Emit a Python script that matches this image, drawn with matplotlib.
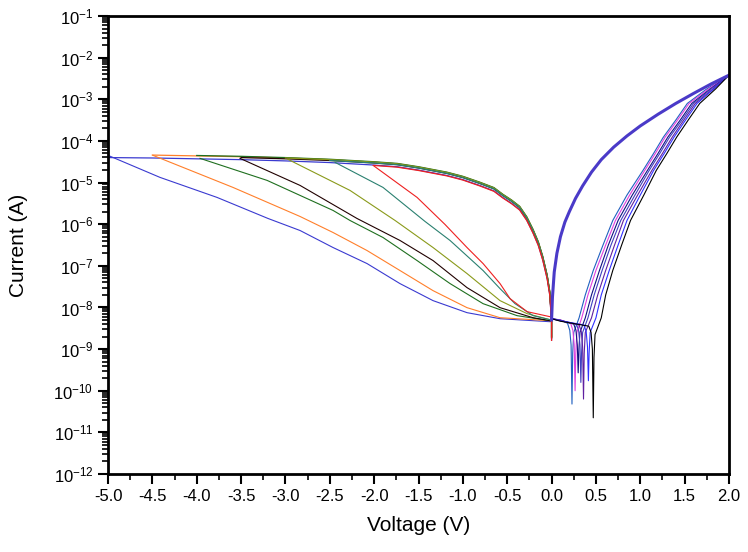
import numpy as np
import matplotlib
matplotlib.use("Agg")
import matplotlib.pyplot as plt
from matplotlib.ticker import MultipleLocator, LogLocator, NullFormatter

plt.rcParams['font.family'] = ['Liberation Sans', 'DejaVu Sans']
plt.rcParams['mathtext.default'] = 'regular'

# reset branch, shared envelope (0 -> -Vmax), log10(I); last point = dip at 0 V
env_v = [-5.0, -4.5, -4.0, -3.5, -3.0, -2.5, -2.0, -1.74, -1.5, -1.18, -1.0, -0.81,
         -0.65, -0.55, -0.45, -0.36, -0.28, -0.21, -0.15, -0.10, -0.05, -0.02, 0.0, 0.0]
env_logi = [-4.35, -4.36, -4.38, -4.40, -4.43, -4.47, -4.53, -4.57, -4.65, -4.78, -4.88, -5.02,
            -5.15, -5.31, -5.45, -5.60, -5.85, -6.15, -6.45, -6.80, -7.25, -7.65, -8.30, -8.73]

# stop voltage of each cycle and small spread of the envelope
vstop = [-5.0, -4.5, -4.0, -3.5, -3.0, -2.5, -2.0]
env_spread = [-0.05, 0.02, 0.03, 0.0, 0.02, 0.0, -0.06]
cycle_colors = ['#3a3ad0', '#ff7f2a', '#1f6f1f', '#200000', '#8a9a1a', '#2a8070', '#ee2020']

# return branches (-Vmax -> 0)
ret_v = [
    [-5.0, -4.414, -3.771, -3.196, -2.835, -2.463, -2.080, -1.708, -1.336, -0.953, -0.581, -0.017, 0.0],
    [-4.493, -3.591, -2.835, -2.463, -2.080, -1.708, -1.336, -0.953, -0.581, -0.017, 0.0],
    [-3.963, -3.207, -2.463, -2.272, -1.900, -1.516, -1.144, -0.772, -0.389, -0.017, 0.0],
    [-3.512, -2.835, -2.193, -1.708, -1.336, -0.953, -0.581, -0.209, -0.017, 0.0],
    [-2.971, -2.272, -1.764, -1.336, -0.953, -0.581, -0.276, -0.017, 0.0],
    [-2.441, -1.900, -1.426, -1.144, -0.772, -0.581, -0.412, -0.209, -0.017, 0.0],
    [-2.012, -1.516, -1.201, -0.953, -0.772, -0.581, -0.468, -0.276, -0.017, 0.0],
]
ret_logi = [
    [-4.347, -4.876, -5.357, -5.863, -6.152, -6.561, -6.946, -7.428, -7.836, -8.125, -8.270, -8.342, -8.32],
    [-4.347, -5.117, -5.815, -6.200, -6.633, -7.114, -7.596, -8.005, -8.246, -8.318, -8.31],
    [-4.419, -4.948, -5.670, -5.911, -6.320, -6.874, -7.427, -7.909, -8.197, -8.318, -8.31],
    [-4.419, -5.069, -5.863, -6.392, -6.874, -7.524, -8.005, -8.246, -8.318, -8.31],
    [-4.443, -5.189, -5.911, -6.561, -7.186, -7.836, -8.149, -8.294, -8.30],
    [-4.515, -5.117, -5.935, -6.392, -7.114, -7.548, -7.909, -8.197, -8.294, -8.30],
    [-4.587, -5.357, -6.007, -6.561, -6.946, -7.427, -7.788, -8.101, -8.222, -8.25],
]

# low resistance state, positive side (2 -> 0)
lrs_v = [0.0, 0.01, 0.03, 0.06, 0.10, 0.15, 0.20, 0.27, 0.35, 0.45, 0.56, 0.70, 0.85, 1.0,
         1.2, 1.4, 1.6, 1.8, 2.0]
lrs_logi = [-8.30, -7.75, -7.15, -6.70, -6.30, -5.95, -5.70, -5.38, -5.08, -4.75, -4.45, -4.15, -3.88, -3.64,
            -3.36, -3.10, -2.86, -2.63, -2.42]

# high resistance state, positive side (0 -> 2), with zero-crossing dips
hrs_v = [
    [0.0, 0.10, 0.18, 0.205, 0.22, 0.23, 0.238, 0.25, 0.31, 0.38, 0.47, 0.58, 0.69, 0.85, 1.03, 1.15, 1.26, 1.40, 1.53, 1.75, 2.0],
    [0.0, 0.10, 0.215, 0.24, 0.255, 0.265, 0.273, 0.285, 0.34, 0.41, 0.50, 0.61, 0.72, 0.88, 1.05, 1.17, 1.28, 1.42, 1.55, 1.77, 2.0],
    [0.0, 0.10, 0.25, 0.275, 0.29, 0.30, 0.308, 0.32, 0.38, 0.45, 0.54, 0.64, 0.75, 0.91, 1.08, 1.20, 1.31, 1.45, 1.58, 1.79, 2.0],
    [0.0, 0.10, 0.28, 0.305, 0.32, 0.33, 0.338, 0.35, 0.41, 0.48, 0.57, 0.67, 0.78, 0.94, 1.10, 1.22, 1.33, 1.47, 1.60, 1.80, 2.0],
    [0.0, 0.10, 0.31, 0.335, 0.35, 0.36, 0.368, 0.38, 0.45, 0.52, 0.61, 0.71, 0.81, 0.97, 1.13, 1.25, 1.36, 1.49, 1.62, 1.82, 2.0],
    [0.0, 0.10, 0.365, 0.39, 0.405, 0.415, 0.423, 0.435, 0.50, 0.56, 0.65, 0.75, 0.85, 1.00, 1.15, 1.27, 1.38, 1.51, 1.64, 1.83, 2.0],
    [0.0, 0.10, 0.42, 0.445, 0.46, 0.47, 0.478, 0.49, 0.56, 0.61, 0.69, 0.79, 0.89, 1.04, 1.18, 1.30, 1.41, 1.54, 1.67, 1.85, 2.0],
]
hrs_logi = [
    [-8.27, -8.30, -8.38, -8.55, -8.90, -10.32, -9.10, -8.60, -8.25, -7.70, -7.11, -6.50, -5.91, -5.30, -4.71, -4.30, -3.91, -3.50, -3.10, -2.75, -2.42],
    [-8.27, -8.30, -8.38, -8.55, -8.90, -10.00, -9.10, -8.60, -8.25, -7.70, -7.11, -6.50, -5.91, -5.30, -4.71, -4.30, -3.91, -3.50, -3.10, -2.75, -2.42],
    [-8.27, -8.31, -8.40, -8.55, -8.90, -9.57, -9.00, -8.60, -8.25, -7.70, -7.11, -6.50, -5.91, -5.30, -4.71, -4.30, -3.91, -3.50, -3.10, -2.75, -2.42],
    [-8.27, -8.31, -8.40, -8.55, -8.90, -9.80, -9.10, -8.60, -8.25, -7.70, -7.11, -6.50, -5.91, -5.30, -4.71, -4.30, -3.91, -3.50, -3.10, -2.75, -2.42],
    [-8.27, -8.32, -8.42, -8.58, -8.95, -10.20, -9.10, -8.60, -8.25, -7.70, -7.11, -6.50, -5.91, -5.30, -4.71, -4.30, -3.91, -3.50, -3.10, -2.75, -2.42],
    [-8.27, -8.32, -8.42, -8.58, -8.95, -9.76, -9.10, -8.60, -8.25, -7.70, -7.11, -6.50, -5.91, -5.30, -4.71, -4.30, -3.91, -3.50, -3.10, -2.75, -2.42],
    [-8.27, -8.33, -8.45, -8.60, -9.00, -10.65, -9.20, -8.65, -8.25, -7.70, -7.11, -6.50, -5.91, -5.30, -4.71, -4.30, -3.91, -3.50, -3.10, -2.75, -2.42],
]
hrs_colors = ['#2060c0', '#e040e0', '#101080', '#4040c0', '#6020a0', '#3030ff', '#000000']

fig = plt.figure(figsize=(7.48, 5.52), dpi=100)
ax = fig.add_axes([0.1444, 0.1413, 0.8302, 0.8297])

env_v = np.array(env_v)
env_logi = np.array(env_logi)
for i in range(len(vstop)):
    m = env_v >= vstop[i] - 1e-9
    ax.plot(env_v[m], 10 ** (env_logi[m] + env_spread[i]), color=cycle_colors[i], lw=0.9)
    ax.plot(ret_v[i], 10 ** np.array(ret_logi[i]), color=cycle_colors[i], lw=0.8)

for i in range(len(hrs_v)):
    ax.plot(hrs_v[i], 10 ** np.array(hrs_logi[i]), color=hrs_colors[i], lw=0.8)

ax.plot(lrs_v, 10 ** np.array(lrs_logi), color='#4a3ac8', lw=2.2)

ax.set_yscale('log')
ax.set_xlim(-5.0, 2.0)
ax.set_ylim(1e-12, 1e-1)
ax.xaxis.set_major_locator(MultipleLocator(0.5))
ax.xaxis.set_minor_locator(MultipleLocator(0.25))
ax.xaxis.set_major_formatter(plt.FuncFormatter(lambda v, p: '%.1f' % v))
ax.yaxis.set_major_locator(LogLocator(base=10, numticks=20))
ax.yaxis.set_minor_locator(LogLocator(base=10, subs=np.arange(2, 10), numticks=20))
ax.yaxis.set_minor_formatter(NullFormatter())

for s in ax.spines.values():
    s.set_linewidth(2)
ax.tick_params(which='major', direction='out', length=7, width=1.5, labelsize=12, top=False, right=False)
ax.tick_params(which='minor', direction='out', length=4, width=1.2, top=False, right=False)

ax.set_xlabel('Voltage (V)', fontsize=15, labelpad=9)
ax.set_ylabel('Current (A)', fontsize=15, labelpad=18)

fig.savefig('out.png', dpi=100)
